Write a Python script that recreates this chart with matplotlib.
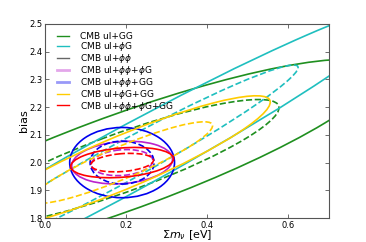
import numpy as np
import matplotlib
matplotlib.use('Agg')
import matplotlib.pyplot as plt
from matplotlib.patches import Ellipse
from matplotlib.lines import Line2D

# fiducial values
fid_mnu = 0.19
fid_bias = 2.0

labels = ['CMB ul+GG', r'CMB ul+$\phi$G', r'CMB ul+$\phi\phi$',
          r'CMB ul+$\phi\phi$+$\phi$G', r'CMB ul+$\phi\phi$+GG',
          r'CMB ul+$\phi$G+GG', r'CMB ul+$\phi\phi$+$\phi$G+GG']
colors = ['#1f8f1f', '#1fbfbf', 'k', '#bb22cc', '#0000ee', '#ffcc00', '#ff0000']
# 1-sigma errors and correlation (phi-phi alone does not show in this range)
sigma_mnu = [0.255, 0.286, None, 0.050, 0.052, 0.147, 0.051]
sigma_bias = [0.150, 0.232, None, 0.031, 0.051, 0.097, 0.022]
corr = [0.87, 0.974, None, 0.15, 0.0, 0.905, 0.25]

# delta chi^2 for 68% and 95% with 2 parameters
levels = [np.sqrt(2.30), np.sqrt(6.17)]
styles = ['--', '-']

fig = plt.figure(figsize=(3.66, 2.42), dpi=100)
ax = fig.add_axes([0.123, 0.099, 0.776, 0.802])

for i in range(len(labels)):
    if sigma_mnu[i] is None:
        continue
    sx, sy, r = sigma_mnu[i], sigma_bias[i], corr[i]
    cov = np.array([[sx**2, r*sx*sy], [r*sx*sy, sy**2]])
    vals, vecs = np.linalg.eigh(cov)
    ang = np.degrees(np.arctan2(vecs[1, 1], vecs[0, 1]))
    for k, ls in zip(levels, styles):
        e = Ellipse((fid_mnu, fid_bias), 2*k*np.sqrt(vals[1]), 2*k*np.sqrt(vals[0]),
                    angle=ang, fill=False, edgecolor=colors[i], linestyle=ls, lw=1.2)
        ax.add_patch(e)

handles = []
for i in range(len(labels)):
    if i in (3, 4):
        handles.append(Line2D([], [], color=colors[i], lw=2, alpha=0.4))
    elif i == 2:
        handles.append(Line2D([], [], color=colors[i], lw=1, alpha=0.6))
    else:
        handles.append(Line2D([], [], color=colors[i], lw=1))
ax.legend(handles, labels, loc='upper left', frameon=False, fontsize=6.5,
          labelspacing=-0.12, handlelength=1.25, handletextpad=1.3,
          borderaxespad=0.5, bbox_to_anchor=(0.015, 1.0))

ax.set_xlim(0.0, 0.7)
ax.set_ylim(1.8, 2.5)
ax.set_xticks([0.0, 0.2, 0.4, 0.6])
ax.set_yticks([1.8, 1.9, 2.0, 2.1, 2.2, 2.3, 2.4, 2.5])
ax.tick_params(direction='in', top=True, right=True, labelsize=6, length=3,
               width=0.6, color='#555555', pad=2)
for s in ax.spines.values():
    s.set_color('#555555')
ax.set_xlabel(r'$\Sigma m_\nu$ [eV]', fontsize=8, labelpad=-1)
ax.set_ylabel('bias', fontsize=8, labelpad=0)

plt.savefig('out.png', dpi=100)
